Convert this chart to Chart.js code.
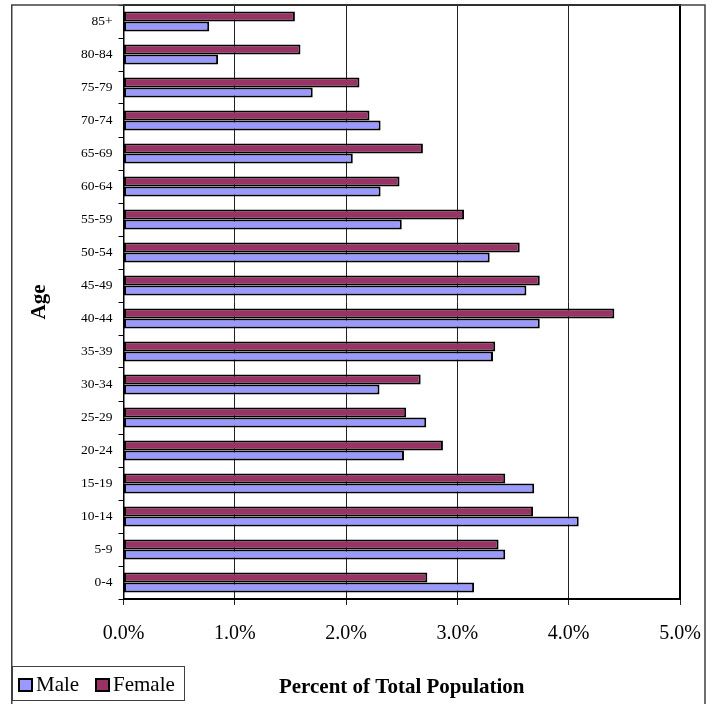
<!DOCTYPE html>
<html>
<head>
<meta charset="utf-8">
<title>Population by Age and Sex</title>
<script src="https://cdn.jsdelivr.net/npm/chart.js@4.4.1/dist/chart.umd.min.js"></script>
<style>
  html, body { margin: 0; padding: 0; background: #ffffff; }
  #wrap { position: relative; width: 712px; height: 704px; }
</style>
</head>
<body>
<div id="wrap"><canvas id="chart" width="712" height="704"></canvas></div>
<script>
// Age groups, youngest first (drawn bottom to top)
const ageGroups = ['0-4', '5-9', '10-14', '15-19', '20-24', '25-29', '30-34', '35-39', '40-44',
                   '45-49', '50-54', '55-59', '60-64', '65-69', '70-74', '75-79', '80-84', '85+'];

// Share of total population, in percent
const malePct   = [3.15, 3.43, 4.09, 3.69, 2.52, 2.72, 2.30, 3.32, 3.74,
                   3.62, 3.29, 2.50, 2.31, 2.06, 2.31, 1.70, 0.85, 0.77];
const femalePct = [2.73, 3.37, 3.68, 3.43, 2.87, 2.54, 2.67, 3.34, 4.41,
                   3.74, 3.56, 3.06, 2.48, 2.69, 2.21, 2.12, 1.59, 1.54];

// Value axis ticks (percent)
const xTicks = [0, 1, 2, 3, 4, 5];

const xTitle = 'Percent of Total Population';
const yTitle = 'Age';

const SERIF = "'Liberation Serif', 'Times New Roman', Times, serif";
const MALE_COLOR = '#9999FF';
const FEMALE_COLOR = '#993366';

// Outer frame, plot border, legend box and x-axis title
const decorations = {
  id: 'decorations',
  afterDraw(chart) {
    const { ctx, chartArea: a } = chart;
    ctx.save();

    // plot border
    ctx.strokeStyle = '#000';
    ctx.lineWidth = 2;
    ctx.beginPath();
    ctx.moveTo(a.left, a.top);
    ctx.lineTo(a.right, a.top);
    ctx.lineTo(a.right, a.bottom);
    ctx.stroke();

    // outer frame
    ctx.strokeStyle = '#404040';
    ctx.lineWidth = 1.5;
    ctx.beginPath();
    ctx.moveTo(11.75, 720);
    ctx.lineTo(11.75, 5);
    ctx.lineTo(705, 5);
    ctx.lineTo(705, 720);
    ctx.stroke();

    // x-axis title
    ctx.fillStyle = '#000';
    ctx.font = 'bold 21px ' + SERIF;
    ctx.textAlign = 'center';
    ctx.textBaseline = 'middle';
    ctx.fillText(xTitle, (a.left + a.right) / 2, 688);

    // legend box
    ctx.fillStyle = '#fff';
    ctx.fillRect(12, 666, 173, 35);
    ctx.strokeStyle = '#404040';
    ctx.lineWidth = 1;
    ctx.strokeRect(12.5, 666.5, 172, 34);

    const items = chart.data.datasets.slice().reverse();
    const swatchX = [19, 96];
    ctx.font = '21px ' + SERIF;
    ctx.textAlign = 'left';
    items.forEach((ds, i) => {
      const sx = swatchX[i];
      ctx.fillStyle = ds.backgroundColor;
      ctx.fillRect(sx, 679, 13, 12);
      ctx.strokeStyle = '#000';
      ctx.lineWidth = 2;
      ctx.strokeRect(sx, 679, 13, 12);
      ctx.fillStyle = '#000';
      ctx.fillText(ds.label, sx + 17, 685);
    });

    ctx.restore();
  }
};

new Chart(document.getElementById('chart'), {
  type: 'bar',
  data: {
    labels: ageGroups,
    datasets: [
      {
        label: 'Female',
        data: femalePct,
        backgroundColor: FEMALE_COLOR,
        borderColor: '#000',
        borderWidth: 2,
        borderSkipped: false
      },
      {
        label: 'Male',
        data: malePct,
        backgroundColor: MALE_COLOR,
        borderColor: '#000',
        borderWidth: 2,
        borderSkipped: false
      }
    ]
  },
  options: {
    indexAxis: 'y',
    responsive: false,
    animation: false,
    devicePixelRatio: 1,
    categoryPercentage: 0.6,
    barPercentage: 1.0,
    layout: { padding: { left: 12, top: 5, right: 32, bottom: 0 } },
    plugins: {
      legend: { display: false },
      tooltip: { enabled: false }
    },
    scales: {
      x: {
        min: 0,
        max: 5,
        afterBuildTicks(scale) {
          scale.ticks = xTicks.map(v => ({ value: v }));
        },
        afterFit(scale) {
          scale.height = 105;
          scale.paddingLeft = 0;
          scale.paddingRight = 0;
        },
        ticks: {
          color: '#000',
          padding: 17,
          font: { family: SERIF, size: 20 },
          callback: v => Number(v).toFixed(1) + '%'
        },
        grid: {
          color: '#222',
          lineWidth: 1,
          tickLength: 6,
          drawTicks: true
        },
        border: { display: true, color: '#000', width: 2 }
      },
      y: {
        reverse: true,
        afterFit(scale) {
          scale.width = 111.5;
          scale.paddingTop = 0;
          scale.paddingBottom = 0;
        },
        ticks: {
          color: '#000',
          padding: 6,
          font: { family: SERIF, size: 13.5 }
        },
        grid: {
          display: true,
          drawOnChartArea: false,
          offset: true,
          color: '#000',
          tickLength: 5
        },
        border: { display: true, color: '#000', width: 1.5 },
        title: {
          display: true,
          text: yTitle,
          color: '#000',
          font: { family: SERIF, size: 21, weight: 'bold' },
          padding: { top: 15, bottom: 0 }
        }
      }
    }
  },
  plugins: [decorations]
});
</script>
</body>
</html>
